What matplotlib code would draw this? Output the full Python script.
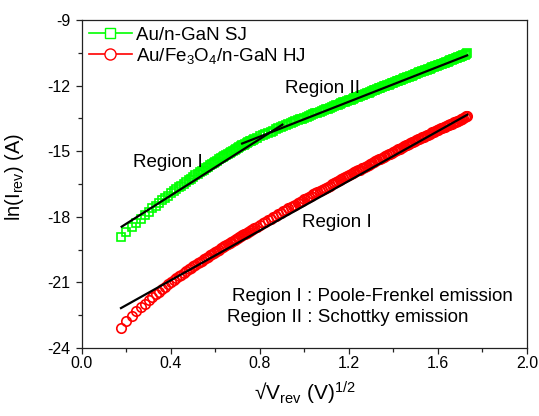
import numpy as np
import matplotlib
matplotlib.use('Agg')
import matplotlib.pyplot as plt
from matplotlib.lines import Line2D
from matplotlib.ticker import MultipleLocator

plt.rcParams['font.family'] = ['Liberation Sans', 'DejaVu Sans']
plt.rcParams['mathtext.fontset'] = 'custom'
plt.rcParams['mathtext.rm'] = 'Liberation Sans'
plt.rcParams['mathtext.it'] = 'Liberation Sans:italic'
plt.rcParams['mathtext.bf'] = 'Liberation Sans:bold'

# reverse bias sweep (V): 10 mV steps up to 0.6 V, 20 mV steps after that
v_low = np.round(np.arange(0.03, 0.605, 0.01), 2)
v_high = np.round(np.arange(0.62, 3.005, 0.02), 2)
v_rev = np.concatenate([v_low, v_high])
sqrt_v = np.sqrt(v_rev)

# ln(I_rev) for the Au/n-GaN Schottky junction
ln_i_sj = [
    -18.91, -18.68, -18.46, -18.27, -18.09, -17.92, -17.76, -17.62, -17.49, -17.36,
    -17.25, -17.14, -17.03, -16.93, -16.84, -16.75, -16.66, -16.57, -16.49, -16.41,
    -16.33, -16.26, -16.18, -16.11, -16.04, -15.97, -15.90, -15.84, -15.77, -15.71,
    -15.65, -15.60, -15.54, -15.48, -15.43, -15.38, -15.32, -15.27, -15.22, -15.17,
    -15.13, -15.08, -15.04, -14.99, -14.95, -14.90, -14.86, -14.82, -14.78, -14.74,
    -14.70, -14.67, -14.63, -14.59, -14.55, -14.52, -14.49, -14.45,
    -14.39, -14.32, -14.27, -14.21, -14.16, -14.11, -14.06, -14.00, -13.95, -13.90,
    -13.86, -13.81, -13.77, -13.72, -13.68, -13.63, -13.59, -13.55, -13.51, -13.47,
    -13.43, -13.39, -13.35, -13.31, -13.27, -13.24, -13.20, -13.16, -13.12, -13.09,
    -13.05, -13.02, -12.98, -12.94, -12.91, -12.87, -12.84, -12.81, -12.77, -12.74,
    -12.70, -12.67, -12.64, -12.60, -12.57, -12.54, -12.51, -12.47, -12.44, -12.41,
    -12.38, -12.35, -12.32, -12.29, -12.25, -12.22, -12.19, -12.16, -12.13, -12.10,
    -12.07, -12.04, -12.01, -11.99, -11.96, -11.93, -11.90, -11.87, -11.84, -11.81,
    -11.78, -11.76, -11.73, -11.70, -11.67, -11.65, -11.62, -11.59, -11.56, -11.54,
    -11.51, -11.48, -11.46, -11.43, -11.40, -11.38, -11.35, -11.33, -11.30, -11.27,
    -11.25, -11.22, -11.20, -11.17, -11.15, -11.12, -11.10, -11.07, -11.05, -11.02,
    -11.00, -10.97, -10.95, -10.92, -10.90, -10.87, -10.85, -10.82, -10.80, -10.78,
    -10.75, -10.73, -10.71, -10.68, -10.66, -10.63, -10.61, -10.59, -10.56, -10.52,
]

# ln(I_rev) for the Au/Fe3O4/n-GaN heterojunction
ln_i_hj = [
    -23.10, -22.78, -22.54, -22.32, -22.14, -21.98, -21.82, -21.68, -21.55, -21.42,
    -21.31, -21.20, -21.09, -20.99, -20.90, -20.81, -20.72, -20.64, -20.56, -20.48,
    -20.41, -20.33, -20.26, -20.19, -20.13, -20.07, -20.01, -19.95, -19.89, -19.83,
    -19.77, -19.71, -19.66, -19.60, -19.55, -19.50, -19.45, -19.40, -19.35, -19.30,
    -19.26, -19.21, -19.16, -19.12, -19.07, -19.02, -18.98, -18.94, -18.89, -18.85,
    -18.81, -18.77, -18.73, -18.69, -18.64, -18.60, -18.57, -18.53,
    -18.45, -18.37, -18.30, -18.23, -18.15, -18.08, -18.02, -17.95, -17.88, -17.81,
    -17.75, -17.68, -17.62, -17.56, -17.50, -17.44, -17.38, -17.32, -17.26, -17.20,
    -17.14, -17.09, -17.03, -16.98, -16.93, -16.87, -16.82, -16.77, -16.72, -16.67,
    -16.62, -16.57, -16.52, -16.47, -16.42, -16.38, -16.33, -16.28, -16.24, -16.19,
    -16.15, -16.10, -16.06, -16.01, -15.97, -15.92, -15.88, -15.84, -15.79, -15.75,
    -15.71, -15.67, -15.62, -15.58, -15.54, -15.50, -15.46, -15.42, -15.38, -15.34,
    -15.30, -15.26, -15.22, -15.18, -15.14, -15.11, -15.07, -15.03, -14.99, -14.96,
    -14.92, -14.88, -14.85, -14.81, -14.77, -14.74, -14.70, -14.67, -14.63, -14.60,
    -14.56, -14.53, -14.49, -14.46, -14.43, -14.40, -14.36, -14.33, -14.30, -14.27,
    -14.24, -14.21, -14.18, -14.14, -14.11, -14.08, -14.05, -14.02, -13.99, -13.96,
    -13.93, -13.91, -13.88, -13.85, -13.82, -13.79, -13.77, -13.74, -13.71, -13.68,
    -13.66, -13.63, -13.60, -13.57, -13.54, -13.51, -13.48, -13.45, -13.41, -13.38,
]

assert len(ln_i_sj) == len(v_rev) and len(ln_i_hj) == len(v_rev)

# linear fits: (sqrt(V) start, sqrt(V) end) and (ln I start, ln I end)
sj_fit1_x, sj_fit1_y = [0.174, 0.905], [-18.48, -13.76]   # Poole-Frenkel
sj_fit2_x, sj_fit2_y = [0.715, 1.736], [-14.67, -10.60]   # Schottky
hj_fit_x, hj_fit_y = [0.171, 1.736], [-22.20, -13.31]     # Poole-Frenkel

labels = ['Au/n-GaN SJ', 'Au/Fe$_3$O$_4$/n-GaN HJ']
green = '#00ff00'
red = '#ff0000'

fig = plt.figure(figsize=(5.39, 4.16), dpi=100)
ax = fig.add_axes([0.1521, 0.1635, 0.8256, 0.7885])

ax.plot(sqrt_v, ln_i_sj, ls='none', marker='s', ms=6.0, mfc='none',
        mec=green, mew=1.2, zorder=2)
ax.plot(sqrt_v, ln_i_hj, ls='none', marker='o', ms=6.8, mfc='none',
        mec=red, mew=1.2, zorder=2)

for fx, fy in [(sj_fit1_x, sj_fit1_y), (sj_fit2_x, sj_fit2_y), (hj_fit_x, hj_fit_y)]:
    ax.plot(fx, fy, color='black', lw=1.6, solid_capstyle='butt', zorder=3)

handles = [
    Line2D([], [], color=green, lw=1.2, marker='s', ms=7, mfc='white', mec=green, mew=1.0),
    Line2D([], [], color=red, lw=1.2, marker='o', ms=8, mfc='white', mec=red, mew=1.0),
]
ax.legend(handles, labels, loc='upper left', bbox_to_anchor=(0.0, 1.0),
          frameon=False, fontsize=13.5, handlelength=2.3, handletextpad=0.25,
          labelspacing=0.1, borderaxespad=0.15, borderpad=0.2)

ax.text(0.23, -15.71, 'Region I', fontsize=13.5, va='baseline')
ax.text(0.912, -12.32, 'Region II', fontsize=13.5, va='baseline')
ax.text(0.989, -18.45, 'Region I', fontsize=13.5, va='baseline')
ax.text(0.674, -21.83, 'Region I : Poole-Frenkel emission', fontsize=13.5, va='baseline')
ax.text(0.652, -22.82, 'Region II : Schottky emission', fontsize=13.5, va='baseline')

ax.set_xlim(0.0, 2.0)
ax.set_ylim(-24, -9)
ax.xaxis.set_major_locator(MultipleLocator(0.4))
ax.xaxis.set_minor_locator(MultipleLocator(0.2))
ax.yaxis.set_major_locator(MultipleLocator(3))
ax.yaxis.set_minor_locator(MultipleLocator(1.5))
ax.xaxis.set_major_formatter(plt.FuncFormatter(lambda v, p: f'{v:.1f}'))
ax.yaxis.set_major_formatter(plt.FuncFormatter(lambda v, p: f'{v:.0f}'))

ax.tick_params(which='both', direction='out', width=0.9, color='#222222',
               top=False, right=False, labelsize=11.5)
ax.tick_params(which='major', length=4.5)
ax.tick_params(which='minor', length=3)
ax.tick_params(axis='x', pad=1)
ax.tick_params(axis='y', pad=4)
for sp in ax.spines.values():
    sp.set_linewidth(0.9)
    sp.set_color('#222222')

ax.set_xlabel('√V$_{\\mathrm{rev}}$ (V)$^{1/2}$', fontsize=15)
ax.set_ylabel('ln(I$_{\\mathrm{rev}}$) (A)', fontsize=14.5)
ax.xaxis.set_label_coords(0.5, -0.097)
ax.yaxis.set_label_coords(-0.126, 0.52)

fig.savefig('out.png', dpi=100)
